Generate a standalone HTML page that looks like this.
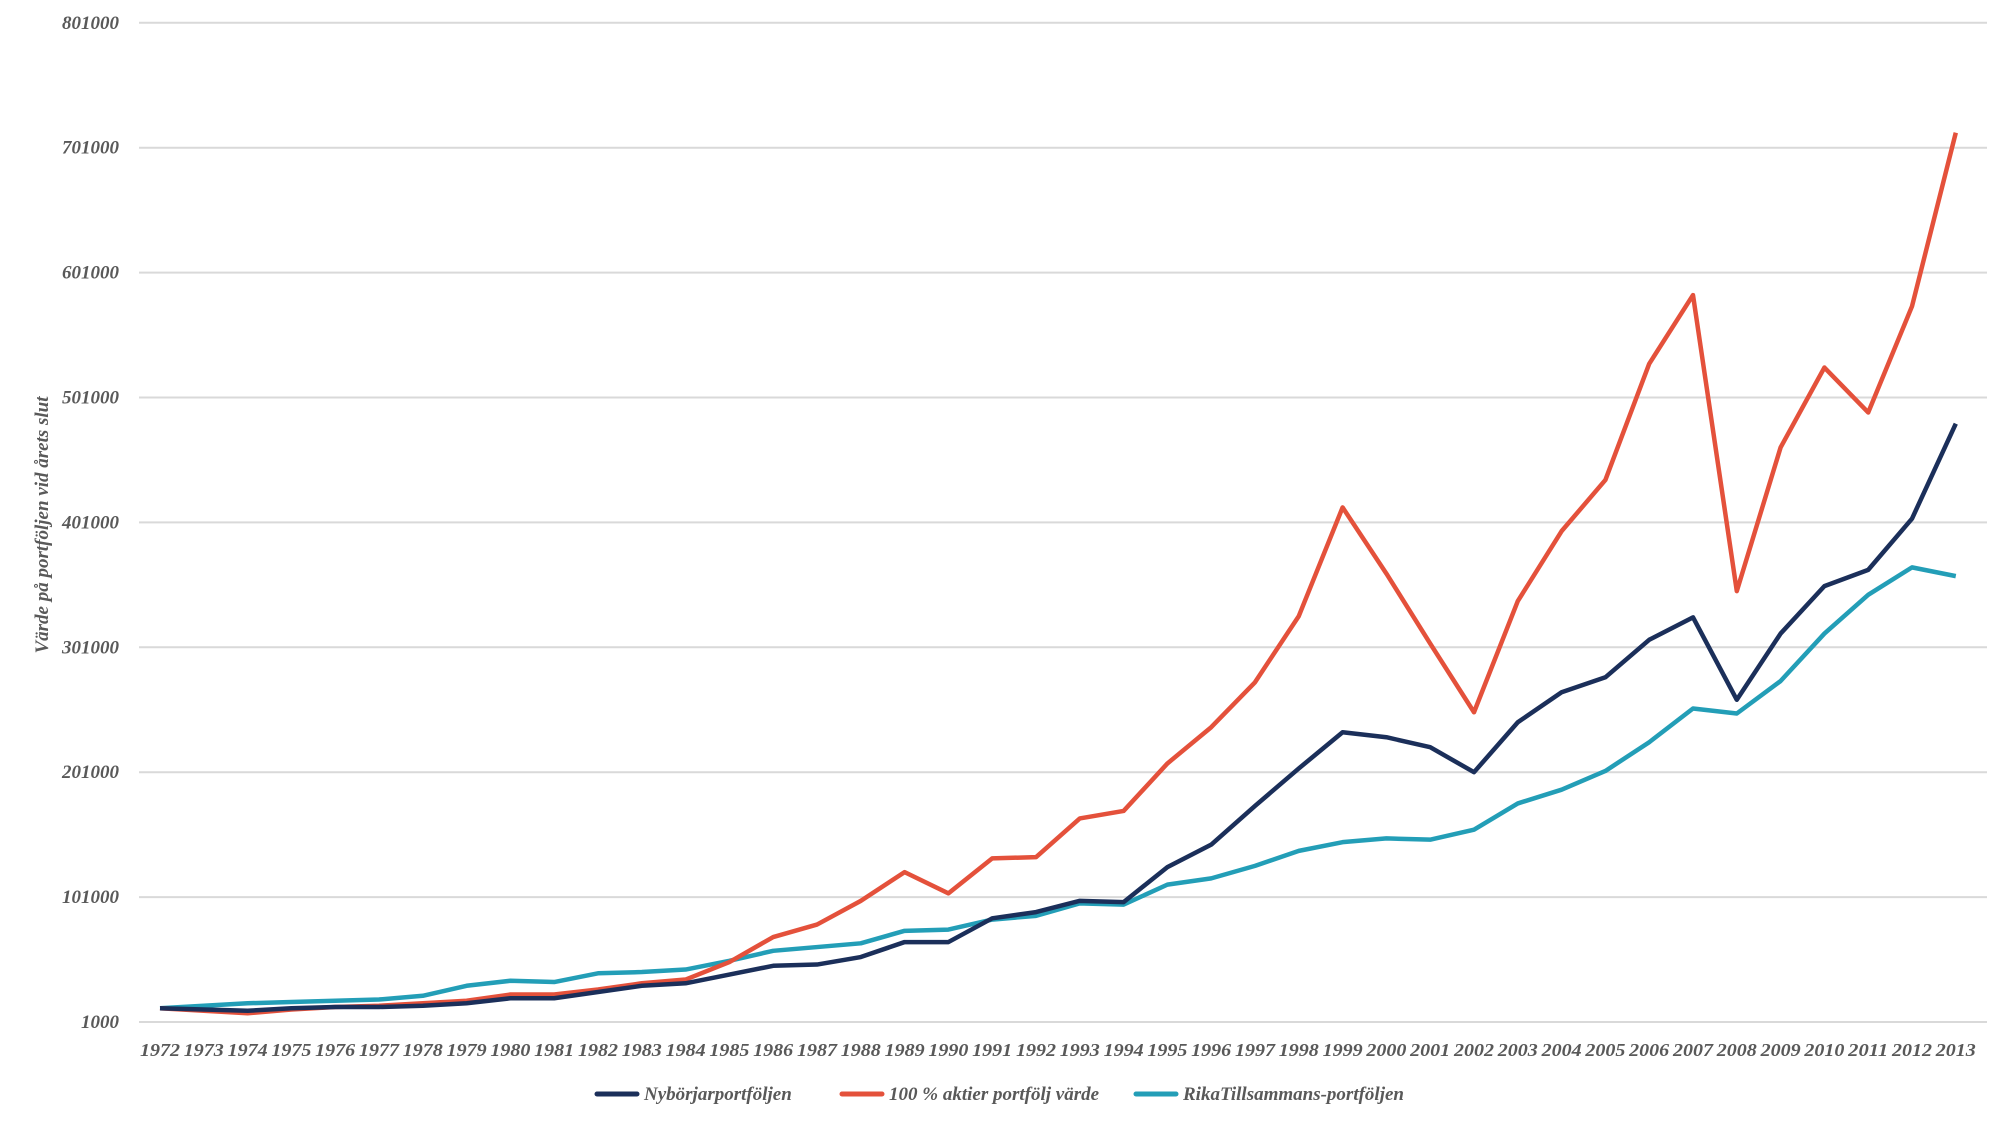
<!DOCTYPE html>
<html><head><meta charset="utf-8"><style>
body{margin:0;background:#fff;}
svg{display:block;font-family:"Liberation Serif",serif;font-style:italic;}
</style></head><body>
<svg id="c" width="2000" height="1125" xmlns="http://www.w3.org/2000/svg"></svg>
<script>
const s=document.getElementById('c');
const N=[12,11,10,12,13,13,14,16,20,20,25,30,32,39,46,47,53,65,65,84,89,98,97,125,143,174,204,233,229,221,201,241,265,277,307,325,259,312,350,363,404,480];
const R=[12,10,8,11,13,14,16,18,23,23,27,32,35,49,69,79,98,121,104,132,133,164,170,208,237,273,326,413,360,304,249,338,394,435,528,583,346,461,525,489,574,713];
const T=[12,14,16,17,18,19,22,30,34,33,40,41,43,50,58,61,64,74,75,83,86,96,95,111,116,126,138,145,148,147,155,176,187,202,225,252,248,274,312,343,365,358];
const Y=v=>1022-(v-1)/100*124.9, X=i=>160+i*43.8;
let h='';
for(let k=0;k<=8;k++){const y=1022-k*124.9;
h+=`<line x1="139" x2="1987" y1="${y}" y2="${y}" stroke="#d9d9d9" stroke-width="2"/>`;
h+=`<text x="119" y="${y+6}" text-anchor="end" font-size="19" font-weight="bold" fill="#595959">${k*100000+1000}</text>`;}
for(let i=0;i<42;i++)h+=`<text x="${X(i)}" y="1056" text-anchor="middle" font-size="18" font-weight="bold" fill="#595959" textLength="40" lengthAdjust="spacingAndGlyphs">${1972+i}</text>`;
const line=(d,c)=>`<polyline fill="none" stroke="${c}" stroke-width="4.5" stroke-linejoin="round" points="${d.map((v,i)=>X(i)+','+Y(v)).join(' ')}"/>`;
h+=line(T,'#239eb7')+line(R,'#e4513b')+line(N,'#1b2f5a');
h+=`<text transform="translate(48,525) rotate(-90)" text-anchor="middle" font-size="19" font-weight="bold" fill="#595959">Värde på portföljen vid årets slut</text>`;
const lg=[[597,'#1b2f5a','Nybörjarportföljen'],[842,'#e4513b','100 % aktier portfölj värde'],[1136,'#239eb7','RikaTillsammans-portföljen']];
for(const [x,c,t] of lg){h+=`<line x1="${x}" x2="${x+40}" y1="1094" y2="1094" stroke="${c}" stroke-width="5" stroke-linecap="round"/>`;
h+=`<text x="${x+47}" y="1100" font-size="19" font-weight="bold" fill="#595959">${t}</text>`;}
s.innerHTML=h;
</script>
</body></html>
